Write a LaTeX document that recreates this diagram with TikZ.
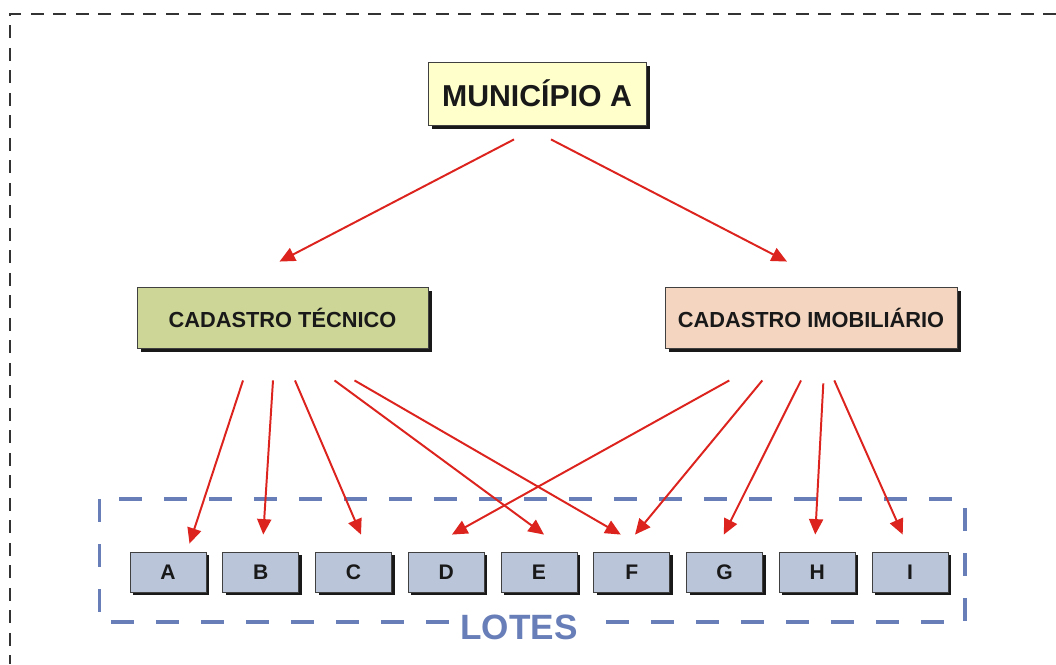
\documentclass[tikz,border=0pt]{standalone}
\usepackage{fontspec}
\setmainfont{Liberation Sans}
\usetikzlibrary{shadows,arrows.meta}
\definecolor{munfill}{RGB}{255,255,204}
\definecolor{tecfill}{RGB}{205,214,150}
\definecolor{imofill}{RGB}{243,213,192}
\definecolor{lotfill}{RGB}{186,197,218}
\definecolor{lotblue}{RGB}{104,126,184}
\definecolor{arrred}{RGB}{220,35,30}
\tikzset{
  x=0.025cm, y=-0.025cm,
  boxnode/.style = {align=center, inner sep=0pt, text centered, font=\bfseries, draw=black!75, line width=0.6pt, text=black!90},
  mun_n/.style = {boxnode, fill=munfill, minimum width=5.45cm, minimum height=1.575cm, font=\fontsize{21.5}{24}\selectfont\bfseries,
    drop shadow={shadow xshift=3pt, shadow yshift=-3pt, fill=black!90, opacity=1}},
  cad_t/.style = {boxnode, fill=tecfill, minimum width=7.275cm, minimum height=1.525cm, font=\fontsize{15.5}{18}\selectfont\bfseries,
    drop shadow={shadow xshift=3pt, shadow yshift=-3pt, fill=black!90, opacity=1}},
  cad_i/.style = {cad_t, fill=imofill, minimum width=7.3cm},
  lote_n/.style = {boxnode, fill=lotfill, minimum width=1.9cm, minimum height=1.0cm, font=\fontsize{15}{18}\selectfont\bfseries,
    drop shadow={shadow xshift=2.2pt, shadow yshift=-2.2pt, fill=black!90, opacity=1}},
  arr/.style = {draw=arrred, line width=1.4pt, -{Triangle[length=11pt,width=10pt]}}
}
\begin{document}
\begin{tikzpicture}
\useasboundingbox (0,0) rectangle (1056,664);
% outer frame
\draw[black!80, line width=1.4pt, dash pattern=on 9pt off 7pt] (1056,14) -- (10,14) -- (10,664);

\node [mun_n] (mun) at (537,93.5) {MUNICÍPIO A};
\node [cad_t] (tec) at (282.5,317.5) {CADASTRO TÉCNICO};
\node [cad_i] (imo) at (811,317.5) {CADASTRO IMOBILIÁRIO};

% lotes
\draw[lotblue, line width=2.8pt, dash pattern=on 16pt off 16pt] (99.5,499) rectangle (965,622);
\node [fill=white, inner xsep=8pt, inner ysep=0pt, text=lotblue, font=\fontsize{25}{28}\selectfont\bfseries] (lotes) at (519,627) {LOTES};
\foreach \l [count=\i from 0] in {A,B,C,D,E,F,G,H,I}
  \node [lote_n] (\l) at ({168+92.75*\i},572) {\l};

% municipio
\draw[arr] ([shift={(-23,14)}]mun.south) -- ([shift={(-3,-25)}]tec.north);
\draw[arr] ([shift={(14,14)}]mun.south) -- ([shift={(-24,-25)}]imo.north);

% cadastro tecnico
\draw[arr] ([shift={(-39.5,32)}]tec.south) -- ([shift={(21.5,-8)}]A.north);
\draw[arr] ([shift={(-9.5,32)}]tec.south) -- ([shift={(2.5,-17)}]B.north);
\draw[arr] ([shift={(12.5,32)}]tec.south) -- ([shift={(7.5,-17)}]C.north);
\draw[arr] ([shift={(52,32)}]tec.south) -- ([shift={(5,-17)}]E.north);
\draw[arr] ([shift={(72,32)}]tec.south) -- ([shift={(-11,-17)}]F.north);

% cadastro imobiliario
\draw[arr] ([shift={(-81.7,32)}]imo.south) -- ([shift={(5.7,-17)}]D.north);
\draw[arr] ([shift={(-48.7,32)}]imo.south) -- ([shift={(3.3,-17)}]F.north);
\draw[arr] ([shift={(-10,32)}]imo.south) -- ([shift={(-0.7,-17)}]G.north);
\draw[arr] ([shift={(12.3,35)}]imo.south) -- ([shift={(-2,-17)}]H.north);
\draw[arr] ([shift={(23.3,32)}]imo.south) -- ([shift={(-7.3,-17)}]I.north);
\end{tikzpicture}
\end{document}
